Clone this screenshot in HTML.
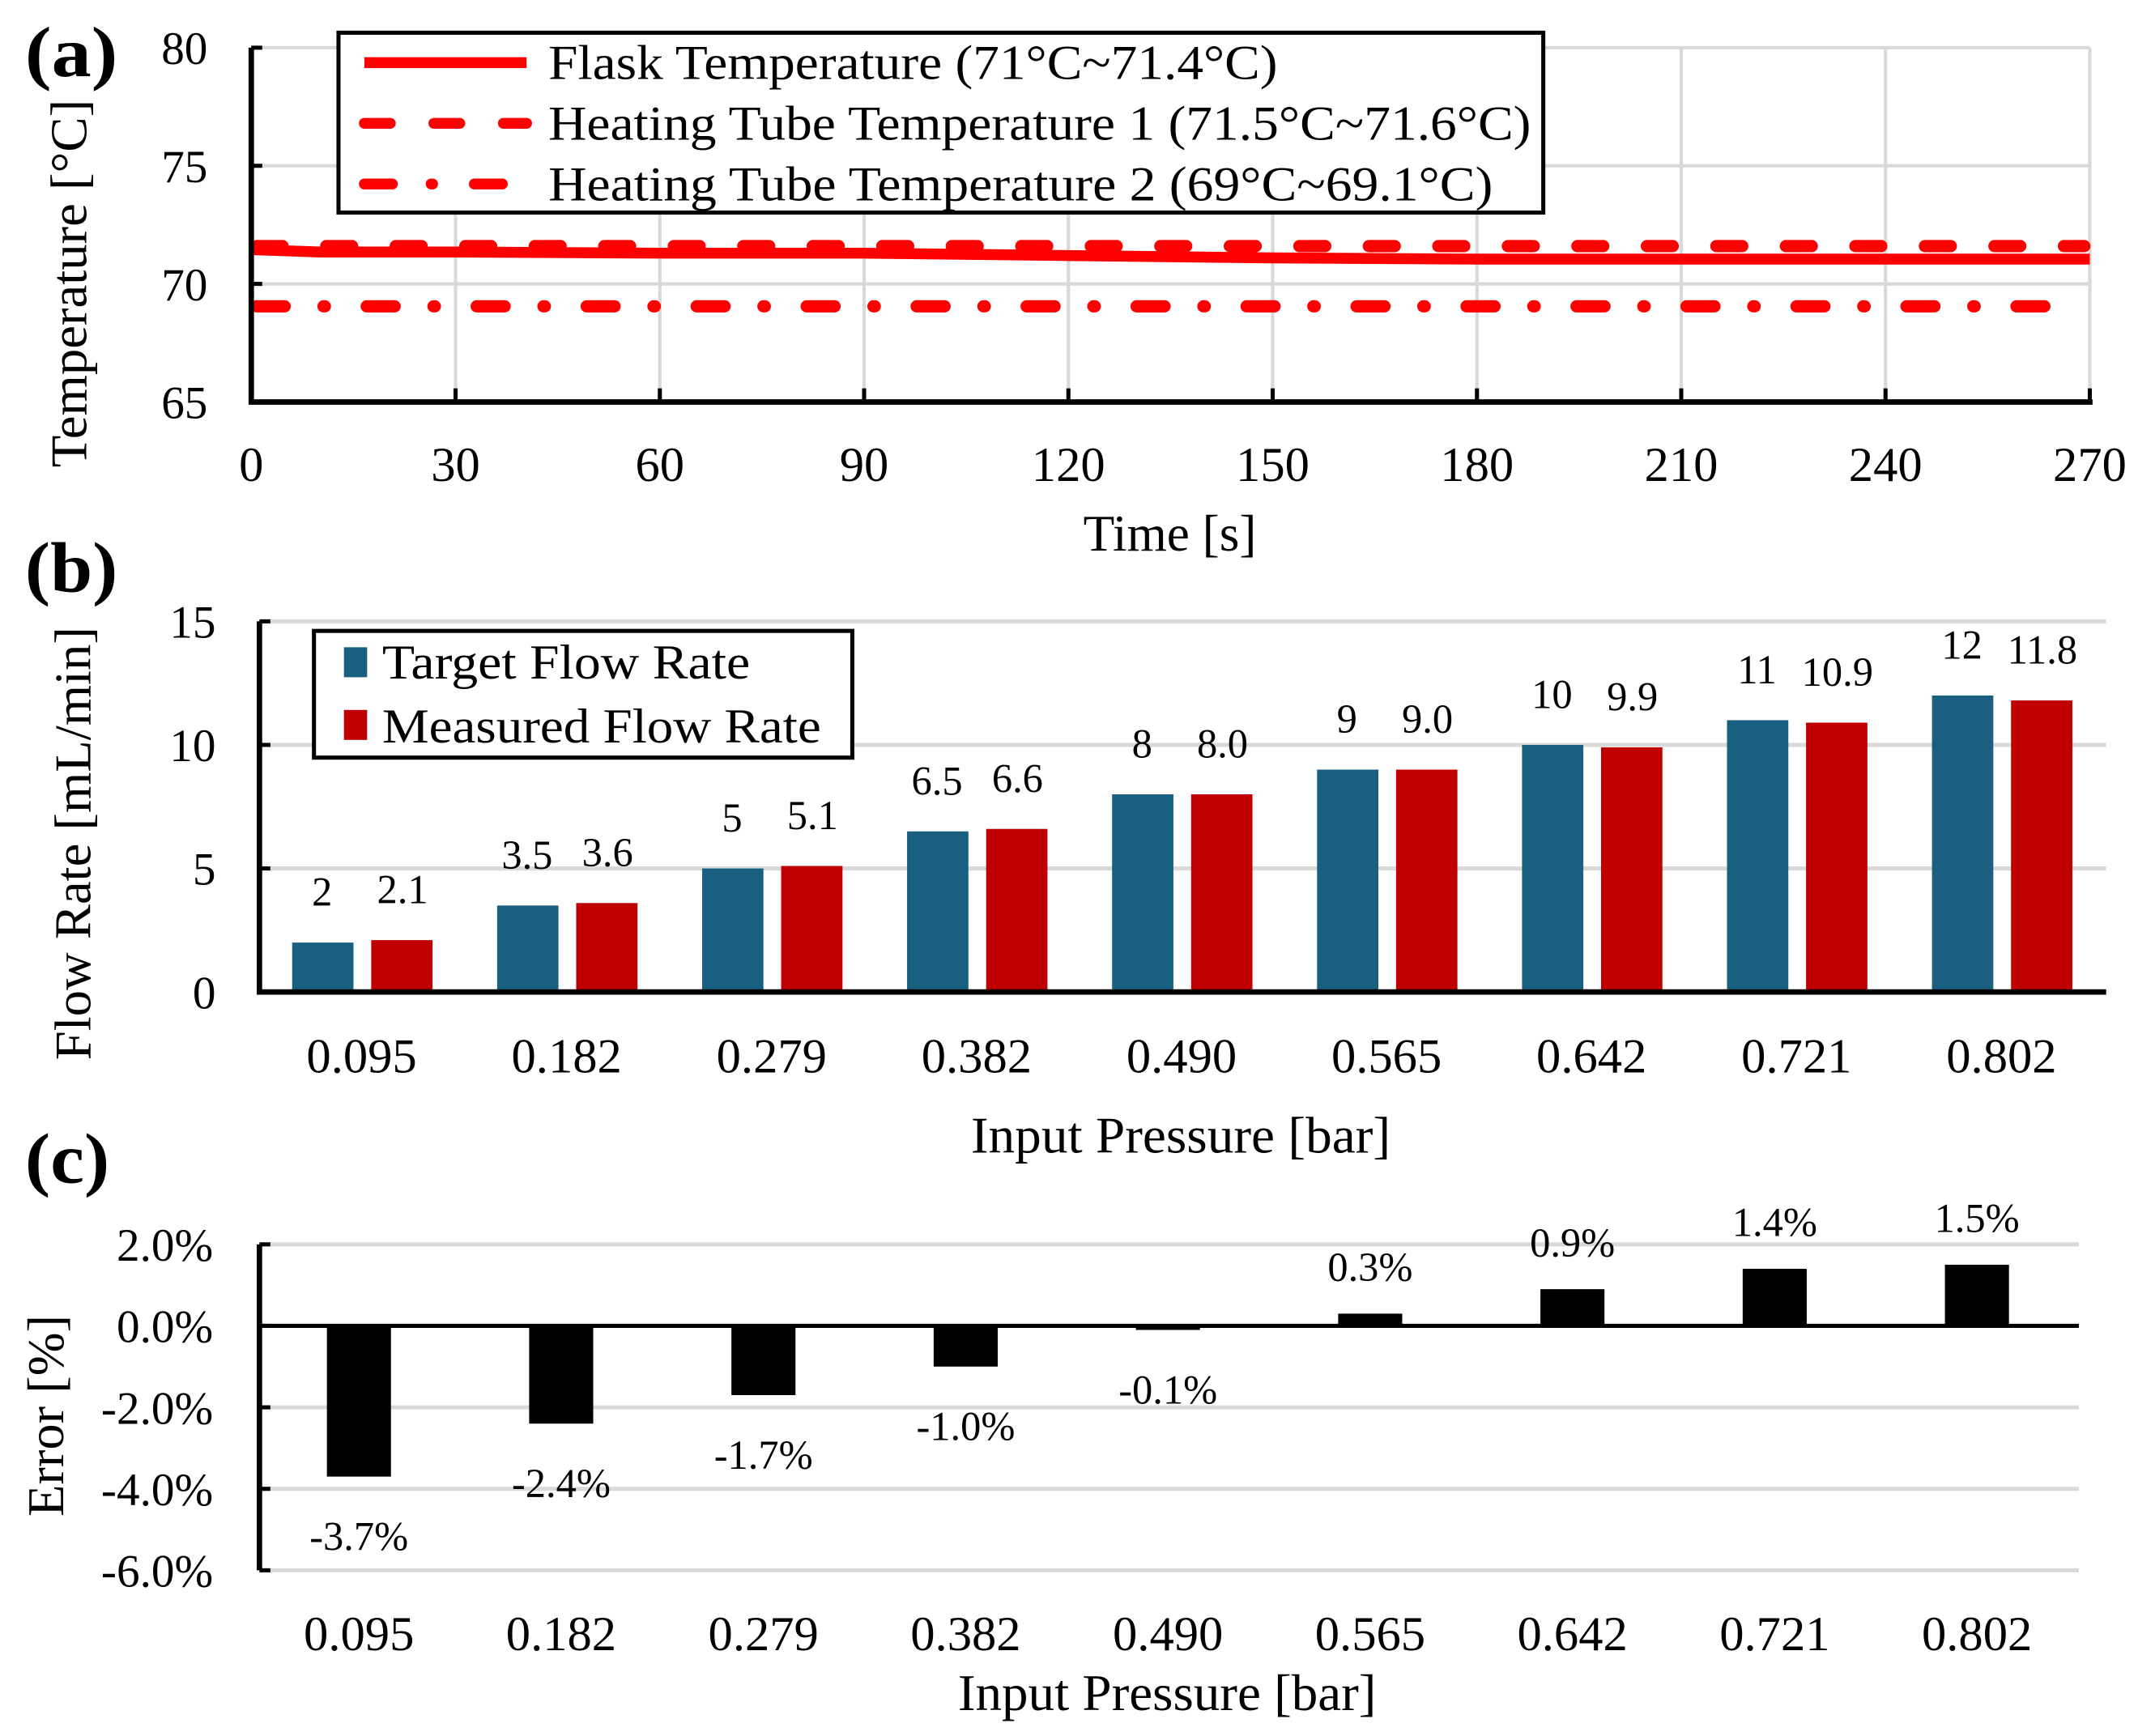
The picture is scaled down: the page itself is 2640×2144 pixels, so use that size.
<!DOCTYPE html>
<html><head><meta charset="utf-8"><style>
html,body{margin:0;padding:0;background:#fff;}
svg{display:block;}
text{font-family:"Liberation Serif",serif;fill:#000;}
</style></head><body>
<svg id="chart" width="2640" height="2144" viewBox="0 0 1568 1274" xmlns="http://www.w3.org/2000/svg">
<g id="pa"></g>
<g id="pb"></g>
<g id="pc"></g>
</svg>
<script>
const NS='http://www.w3.org/2000/svg';
// Panel a data
const timeTicks=[0,30,60,90,120,150,180,210,240,270];
const tempTicks=[65,70,75,80];
const flaskT=[0,10,30,60,90,120,150,180,210,240,270];
const flaskV=[71.45,71.35,71.35,71.3,71.3,71.2,71.1,71.05,71.05,71.05,71.05];
const tube1V=71.6;
const tube2V=69.05;
// Panel b data
const pressures=['0.095','0.182','0.279','0.382','0.490','0.565','0.642','0.721','0.802'];
const targetFlow=[2,3.5,5,6.5,8,9,10,11,12];
const measuredFlow=[2.1,3.6,5.1,6.6,8.0,9.0,9.9,10.9,11.8];
const targetLabels=['2','3.5','5','6.5','8','9','10','11','12'];
const measuredLabels=['2.1','3.6','5.1','6.6','8.0','9.0','9.9','10.9','11.8'];
const flowTicks=[0,5,10,15];
// Panel c data
const errorVals=[-3.7,-2.4,-1.7,-1.0,-0.1,0.3,0.9,1.4,1.5];
const errorTicks=[-6,-4,-2,0,2];

function el(tag,attrs,parent,txt){const e=document.createElementNS(NS,tag);for(const k in attrs)e.setAttribute(k,attrs[k]);if(txt!==undefined)e.textContent=txt;parent.appendChild(e);return e;}

// ---------- Panel a ----------
(function(){
const g=document.getElementById('pa');
const x=t=>184+(t-0)/270*(1533-184);
const y=v=>295-(v-65)/15*260;
tempTicks.forEach(v=>{ if(v>65){const l=el('line',{x1:184,x2:1533,y1:y(v),y2:y(v),stroke:'#d9d9d9','stroke-width':2.5},g);

}
const t=el('text',{x:152,y:y(v)+12,'font-size':34,'text-anchor':'end'},g,String(v));


const tk=el('line',{x1:184,x2:192,y1:y(v),y2:y(v),stroke:'#000','stroke-width':3},g);


});
timeTicks.forEach(t=>{ if(t>0){const l=el('line',{x1:x(t),x2:x(t),y1:35,y2:295,stroke:'#d9d9d9','stroke-width':2.5},g);

}
const tk=el('line',{x1:x(t),x2:x(t),y1:285,y2:295,stroke:'#000','stroke-width':3},g);


const tl=el('text',{x:x(t),y:353,'font-size':36,'text-anchor':'middle'},g,String(t));


});
const t2=el('line',{x1:x(0)+4,x2:x(270)-6,y1:y(tube2V),y2:y(tube2V),stroke:'#ff0000','stroke-width':9,'stroke-linecap':'round','stroke-dasharray':'20.5 28.5 1 30.7'},g);


const t1=el('line',{x1:x(0)+4,x2:x(270)-4,y1:y(tube1V),y2:y(tube1V),stroke:'#ff0000','stroke-width':9,'stroke-linecap':'round','stroke-dasharray':'19 32'},g);


let d='';flaskT.forEach((t,i)=>{d+=(i?'L':'M')+x(t)+' '+y(flaskV[i]);});
const fl=el('path',{d:d,fill:'none',stroke:'#ff0000','stroke-width':8},g);


const ax=el('path',{d:'M184 35 V295 H1535',fill:'none',stroke:'#000','stroke-width':4},g);


// legend
const lg=el('g',{},g);


el('rect',{x:248,y:24,width:884,height:132,fill:'#fff',stroke:'#000','stroke-width':3},lg);
const entries=[['Flask Temperature (71°C~71.4°C)','none',535],['Heating Tube Temperature 1 (71.5°C~71.6°C)','19 32',721],['Heating Tube Temperature 2 (69°C~69.1°C)','20.5 28.5 1 30.7',693]];
entries.forEach((e,i)=>{const yy=46+i*44.5;
const ln=el('line',{x1:267,x2:386,y1:yy,y2:yy,stroke:'#ff0000','stroke-width':8,'stroke-linecap':e[1]==='none'?'butt':'round','stroke-dasharray':e[1]},lg);


const tx=el('text',{x:402,y:yy+12,'font-size':36,textLength:e[2],lengthAdjust:'spacingAndGlyphs'},lg,e[0]);

});
const yt=el('text',{x:0,y:0,'font-size':38,'text-anchor':'middle',textLength:270,lengthAdjust:'spacingAndGlyphs',transform:'translate(63,208) rotate(-90)'},g,'Temperature [°C]');


const xt=el('text',{x:858,y:404,'font-size':38,'text-anchor':'middle',textLength:127,lengthAdjust:'spacingAndGlyphs'},g,'Time [s]');


const pl=el('text',{x:18,y:56,'font-size':52,'font-weight':'bold',textLength:68,lengthAdjust:'spacingAndGlyphs'},g,'(a)');


})();

// ---------- Panel b ----------
(function(){
const g=document.getElementById('pb');
const step=150.4, x0=265;
const cx=i=>x0+i*step;
const y=v=>728-v/15*272;
flowTicks.forEach(v=>{ if(v>0){const l=el('line',{x1:190,x2:1545,y1:y(v),y2:y(v),stroke:'#d9d9d9','stroke-width':3},g);

}
const t=el('text',{x:158,y:y(v)+12,'font-size':34,'text-anchor':'end'},g,String(v));


const tk=el('line',{x1:190,x2:198,y1:y(v),y2:y(v),stroke:'#000','stroke-width':3},g);


});
pressures.forEach((p,i)=>{
const b1=el('rect',{x:cx(i)-51,y:y(targetFlow[i]),width:45,height:728-y(targetFlow[i]),fill:'#185f80'},g);


const b2=el('rect',{x:cx(i)+7,y:y(measuredFlow[i]),width:45,height:728-y(measuredFlow[i]),fill:'#c00000'},g);


const l1=el('text',{x:cx(i)-29,y:y(targetFlow[i])-27,'font-size':30,'text-anchor':'middle'},g,targetLabels[i]);


const l2=el('text',{x:cx(i)+30,y:y(measuredFlow[i])-27,'font-size':30,'text-anchor':'middle'},g,measuredLabels[i]);


const tl=el('text',{x:cx(i),y:787,'font-size':36,'text-anchor':'middle'},g,p);


});
const ax=el('path',{d:'M190 456 V728 H1545',fill:'none',stroke:'#000','stroke-width':4},g);


const lg=el('g',{},g);


el('rect',{x:230,y:463,width:395,height:93,fill:'#fff',stroke:'#000','stroke-width':3},lg);
el('rect',{x:252,y:475,width:17,height:22,fill:'#185f80'},lg);
el('rect',{x:252,y:521,width:17,height:22,fill:'#c00000'},lg);
const e1=el('text',{x:280,y:498,'font-size':36,textLength:270,lengthAdjust:'spacingAndGlyphs'},lg,'Target Flow Rate');


const e2=el('text',{x:280,y:545,'font-size':36,textLength:322,lengthAdjust:'spacingAndGlyphs'},lg,'Measured Flow Rate');


const yt=el('text',{x:0,y:0,'font-size':38,'text-anchor':'middle',textLength:318,lengthAdjust:'spacingAndGlyphs',transform:'translate(66,619) rotate(-90)'},g,'Flow Rate [mL/min]');


const xt=el('text',{x:866,y:846,'font-size':38,'text-anchor':'middle',textLength:308,lengthAdjust:'spacingAndGlyphs'},g,'Input Pressure [bar]');


const pl=el('text',{x:18,y:434,'font-size':52,'font-weight':'bold',textLength:68,lengthAdjust:'spacingAndGlyphs'},g,'(b)');


})();

// ---------- Panel c ----------
(function(){
const g=document.getElementById('pc');
const step=148.4, x0=263;
const cx=i=>x0+i*step;
const y=v=>973-v/2*59.8;
errorTicks.forEach(v=>{ if(v!==0){const l=el('line',{x1:190,x2:1525,y1:y(v),y2:y(v),stroke:'#d9d9d9','stroke-width':3},g);

}
const t=el('text',{x:156,y:y(v)+12,'font-size':34,'text-anchor':'end'},g,v.toFixed(1)+'%');


const tk=el('line',{x1:190,x2:198,y1:y(v),y2:y(v),stroke:'#000','stroke-width':3},g);


});
pressures.forEach((p,i)=>{const v=errorVals[i];
const top=Math.min(y(v),y(0)),h=Math.abs(y(v)-y(0));
const b=el('rect',{x:cx(i)-23.5,y:top,width:47,height:h,fill:'#000'},g);


const ly=v<0?y(v)+54:y(v)-24;
const lb=el('text',{x:cx(i),y:ly,'font-size':30,'text-anchor':'middle'},g,v.toFixed(1)+'%');


const tl=el('text',{x:cx(i),y:1211,'font-size':36,'text-anchor':'middle'},g,p);


});
const z=el('line',{x1:190,x2:1525,y1:y(0),y2:y(0),stroke:'#000','stroke-width':3},g);


const ax=el('line',{x1:190,x2:190,y1:y(2),y2:y(-6),stroke:'#000','stroke-width':4},g);


const yt=el('text',{x:0,y:0,'font-size':38,'text-anchor':'middle',textLength:148,lengthAdjust:'spacingAndGlyphs',transform:'translate(46,1039) rotate(-90)'},g,'Error [%]');


const xt=el('text',{x:856,y:1255,'font-size':38,'text-anchor':'middle',textLength:307,lengthAdjust:'spacingAndGlyphs'},g,'Input Pressure [bar]');


const pl=el('text',{x:18,y:868,'font-size':52,'font-weight':'bold',textLength:62,lengthAdjust:'spacingAndGlyphs'},g,'(c)');


})();
</script>
</body></html>
